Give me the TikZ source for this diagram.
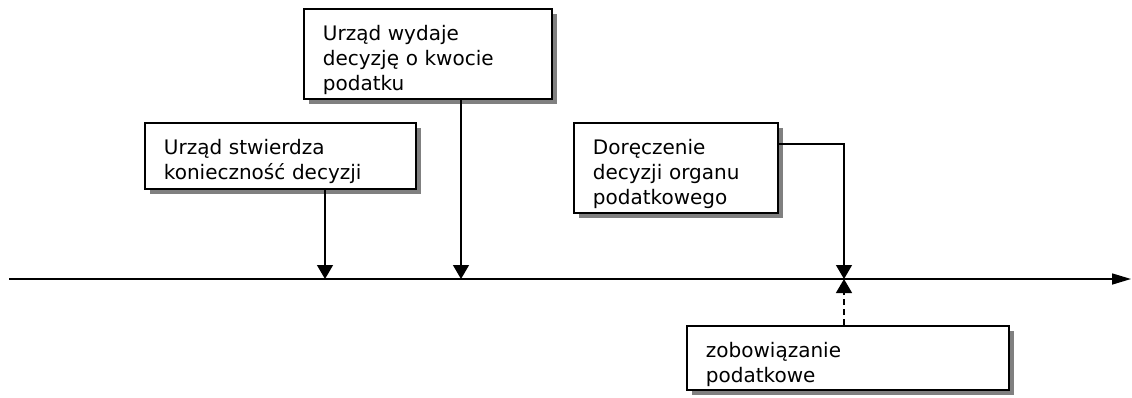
\documentclass[tikz,border=0pt]{standalone}
\usepackage{fontspec}
\setmainfont{DejaVu Sans}
\usetikzlibrary{arrows.meta,shadows}
\begin{document}
\begin{tikzpicture}
	[x=1pt,y=-1pt,
	box/.style={draw,line width=1.8pt,fill=white,anchor=north west,
		align=left,inner xsep=19pt,inner ysep=0pt,text height=32pt,
		font=\fontsize{20}{25}\selectfont,
		drop shadow={shadow xshift=5pt,shadow yshift=-5pt,fill=gray,opacity=1}},
	pointer/.style={line width=1.3pt,-{Triangle[length=14pt,width=16pt]}},
	axis/.style={line width=1.6pt,-{Triangle[length=19pt,width=11pt]}}]
	\useasboundingbox (0,0) rectangle (1132,397);
	% boxes
	\node[box,text width=233pt,minimum width=271pt,text depth=34pt]
		(stwierdza) at (144,122) {Urząd stwierdza\\konieczność decyzji};
	\node[box,text width=210pt,minimum width=248pt,text depth=58pt]
		(wydaje) at (303,8) {Urząd wydaje\\decyzję o kwocie\\podatku};
	\node[box,text width=166pt,minimum width=204pt,text depth=58pt]
		(doreczenie) at (573,122) {Doręczenie\\decyzji organu\\podatkowego};
	\node[box,text width=284pt,minimum width=322pt,text depth=32pt]
		(zobowiazanie) at (686,325) {zobowiązanie\\podatkowe};
	% time axis
	\coordinate (start) at (9,279);
	\coordinate (end) at (1131,279);
	\coordinate (t1) at (325,279);
	\coordinate (t2) at (461,279);
	\coordinate (t3) at (844,279);
	\draw[axis] (start) -- (end);
	\draw[pointer] (stwierdza.south -| t1) -- (t1);
	\draw[pointer] (wydaje.south -| t2) -- (t2);
	\draw[pointer] ([yshift=-22pt]doreczenie.north east) -| (t3);
	\draw[pointer,dash pattern=on 6pt off 4pt] (zobowiazanie.north -| t3) -- (t3);
\end{tikzpicture}
\end{document}
